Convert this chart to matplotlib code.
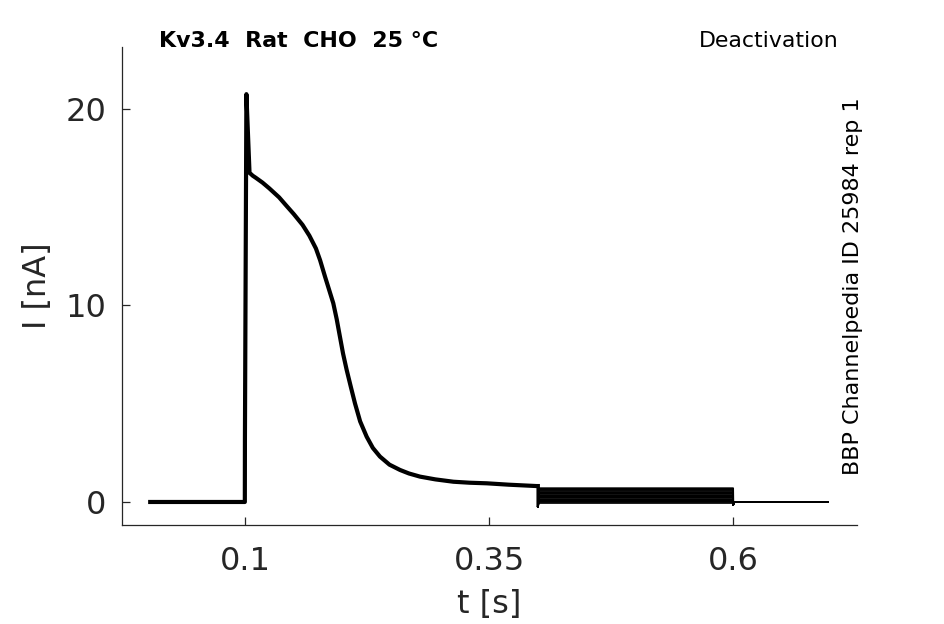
import matplotlib
matplotlib.use('Agg')
import matplotlib.pyplot as plt

plt.rcParams.update({'font.family': 'DejaVu Sans'})

# activating pulse (same for all sweeps)
t_pulse = [0.003, 0.0999, 0.1, 0.1015, 0.1047, 0.108, 0.111, 0.118, 0.1249, 0.135,
           0.142, 0.150, 0.159, 0.166, 0.1727, 0.177, 0.182, 0.1847, 0.1905,
           0.194, 0.1973, 0.2005, 0.2042, 0.2085, 0.2127, 0.218, 0.2247, 0.231,
           0.2383, 0.248, 0.2588, 0.268, 0.2793, 0.295, 0.3135, 0.33, 0.3477,
           0.37, 0.3988, 0.4]
i_pulse = [0.0, 0.0, 3.2, 20.75, 16.75, 16.6, 16.5, 16.25, 15.96, 15.5,
           15.1, 14.65, 14.1, 13.55, 12.9, 12.3, 11.47, 11.04, 10.11,
           9.3, 8.41, 7.55, 6.72, 5.85, 5.02, 4.1, 3.32, 2.75,
           2.31, 1.9, 1.63, 1.45, 1.29, 1.15, 1.03, 0.98, 0.95,
           0.88, 0.81, 0.81]

# deactivation step levels (0.4 - 0.6 s), one per sweep
tail_levels = [0.70, 0.63, 0.56, 0.49, 0.42, 0.35, 0.28, 0.21, 0.14, 0.08, 0.02, -0.05]
t_step_on, t_step_off, t_end = 0.4, 0.6, 0.697

fig = plt.figure(figsize=(9.45, 6.24), dpi=100)
ax = fig.add_axes([0.129, 0.1587, 0.778, 0.766])

for lvl in tail_levels:
    ax.plot([t_step_on, t_step_on, t_step_on + 0.001, t_step_off, t_step_off, t_step_off + 0.001, t_end],
            [0.81, -0.25, lvl, lvl, -0.15, 0.0, 0.0], color='black', lw=1.3)
ax.plot(t_pulse, i_pulse, color='black', lw=3.0, solid_joinstyle='round')

ax.set_xlim(-0.026, 0.727)
ax.set_ylim(-1.17, 23.15)
ax.set_xticks([0.1, 0.35, 0.6])
ax.set_xticklabels(['0.1', '0.35', '0.6'])
ax.set_yticks([0, 10, 20])
for s in ['top', 'right']:
    ax.spines[s].set_visible(False)
for s in ['left', 'bottom']:
    ax.spines[s].set_color('#262626')
    ax.spines[s].set_linewidth(0.9)
ax.tick_params(direction='in', length=6, width=0.9, colors='#262626', labelsize=23)
ax.tick_params(axis='x', pad=15)
ax.tick_params(axis='y', pad=11)
ax.set_xlabel('t [s]', fontsize=23, color='#262626', labelpad=9)
ax.set_ylabel('I [nA]', fontsize=23, color='#262626', labelpad=9)

fig.text(0.168, 0.9247, 'Kv3.4  Rat  CHO  25 \u00b0C', fontsize=15.9,
         fontweight='bold', ha='left', va='baseline')
fig.text(0.887, 0.9247, 'Deactivation', fontsize=15.8, ha='right', va='baseline')
fig.text(0.9025, 0.5417, 'BBP Channelpedia ID 25984 rep 1', fontsize=16,
         rotation=90, ha='center', va='center')

fig.savefig('out.png', dpi=100)
